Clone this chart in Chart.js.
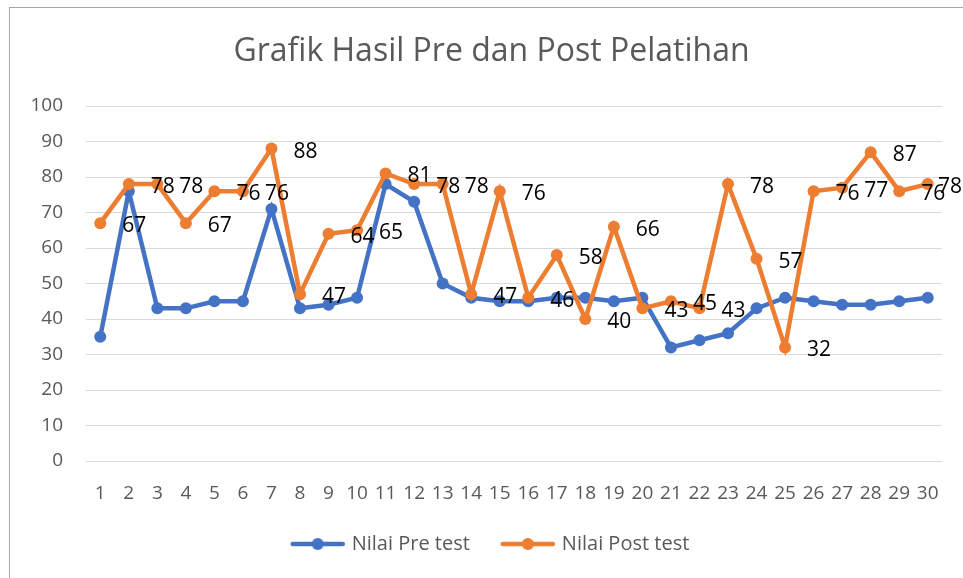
<!DOCTYPE html>
<html>
<head>
<meta charset="utf-8">
<script src="https://cdn.jsdelivr.net/npm/chart.js@4.4.1/dist/chart.umd.min.js"></script>
<style>
  html, body { margin: 0; padding: 0; background: #ffffff; }
  #wrap { position: relative; width: 963px; height: 578px; overflow: hidden; }
  #frame { position: absolute; left: 9px; top: 7px; width: 1000px; height: 600px;
           border-left: 1.5px solid #a6a6a6; border-top: 1.5px solid #a6a6a6; box-sizing: border-box; }
  #c { position: absolute; left: 0; top: 0; }
</style>
</head>
<body>
<div id="wrap">
  <div id="frame"></div>
  <canvas id="c" width="963" height="578"></canvas>
</div>
<script>
const chartTitle = 'Grafik Hasil Pre dan Post Pelatihan';
const categories = ['1','2','3','4','5','6','7','8','9','10','11','12','13','14','15','16','17','18','19','20','21','22','23','24','25','26','27','28','29','30'];
const preTest  = [35,76,43,43,45,45,71,43,44,46,78,73,50,46,45,45,46,46,45,46,32,34,36,43,46,45,44,44,45,46];
const postTest = [67,78,78,67,76,76,88,47,64,65,81,78,78,47,76,46,58,40,66,43,45,43,78,57,32,76,77,87,76,78];
const seriesNames = ['Nilai Pre test', 'Nilai Post test'];
const seriesColors = ['#4472C4', '#ED7D31'];

function legendIcon(color) {
  const cv = document.createElement('canvas');
  cv.width = 56; cv.height = 14;
  const g = cv.getContext('2d');
  g.strokeStyle = color; g.lineWidth = 4.5; g.lineCap = 'round';
  g.beginPath(); g.moveTo(3, 7); g.lineTo(53, 7); g.stroke();
  g.fillStyle = color;
  g.beginPath(); g.arc(28, 7, 6, 0, Math.PI * 2); g.fill();
  return cv;
}
const icons = seriesColors.map(legendIcon);

const valueLabels = {
  id: 'valueLabels',
  afterDatasetsDraw(chart) {
    const ctx = chart.ctx;
    const meta = chart.getDatasetMeta(1);
    ctx.save();
    ctx.font = '21px "Open Sans"';
    ctx.fillStyle = '#000000';
    ctx.textAlign = 'left';
    ctx.textBaseline = 'middle';
    meta.data.forEach((pt, i) => {
      const txt = String(postTest[i]);
      const w = ctx.measureText(txt).width;
      let x = pt.x + 22;
      if (x + w > chart.width - 1) x = chart.width - 1 - w;
      ctx.fillText(txt, x, pt.y + 3);
    });
    ctx.restore();
  }
};

new Chart(document.getElementById('c'), {
  type: 'line',
  data: {
    labels: categories,
    datasets: [
      { label: seriesNames[0], data: preTest, borderColor: seriesColors[0], backgroundColor: seriesColors[0],
        borderWidth: 4.5, pointRadius: 6, pointBorderWidth: 0, pointBackgroundColor: seriesColors[0],
        tension: 0, order: 1 },
      { label: seriesNames[1], data: postTest, borderColor: seriesColors[1], backgroundColor: seriesColors[1],
        borderWidth: 4.5, pointRadius: 6, pointBorderWidth: 0, pointBackgroundColor: seriesColors[1],
        tension: 0, order: 0 }
    ]
  },
  options: {
    responsive: false,
    animation: false,
    devicePixelRatio: 1,
    layout: { padding: { left: 20, right: 0, top: 0, bottom: 14 } },
    plugins: {
      title: {
        display: true, text: chartTitle, color: '#595959',
        font: { family: '"Open Sans"', size: 32, weight: 400, lineHeight: 1.2 },
        padding: { top: 33, bottom: 34.6 }
      },
      legend: {
        position: 'bottom',
        labels: {
          usePointStyle: true, pointStyleWidth: 48, padding: 34, color: '#595959',
          font: { family: '"Open Sans"', size: 20 },
          sort: (a, b) => a.datasetIndex - b.datasetIndex,
          generateLabels(chart) {
            const items = Chart.defaults.plugins.legend.labels.generateLabels(chart);
            items.forEach(it => { it.pointStyle = icons[it.datasetIndex]; });
            return items;
          }
        }
      },
      tooltip: { enabled: false }
    },
    scales: {
      x: {
        offset: true,
        grid: { display: false, drawTicks: false },
        border: { display: false },
        ticks: { color: '#595959', font: { family: '"Open Sans"', size: 19 }, padding: 21, maxRotation: 0, autoSkip: false },
        afterFit(scale) { scale.height = 39; }
      },
      y: {
        min: 0, max: 100,
        grid: { color: '#D9D9D9', lineWidth: 1, drawTicks: false },
        border: { display: false },
        ticks: { stepSize: 10, color: '#595959', font: { family: '"Open Sans"', size: 19 }, padding: 23 },
        afterFit(scale) { scale.width = 66; }
      },
      yRightSpacer: {
        position: 'right', display: true, min: 0, max: 100,
        grid: { display: false, drawTicks: false },
        border: { display: false },
        ticks: { display: false },
        afterFit(scale) { scale.width = 21; }
      }
    }
  },
  plugins: [valueLabels]
});
</script>
</body>
</html>
